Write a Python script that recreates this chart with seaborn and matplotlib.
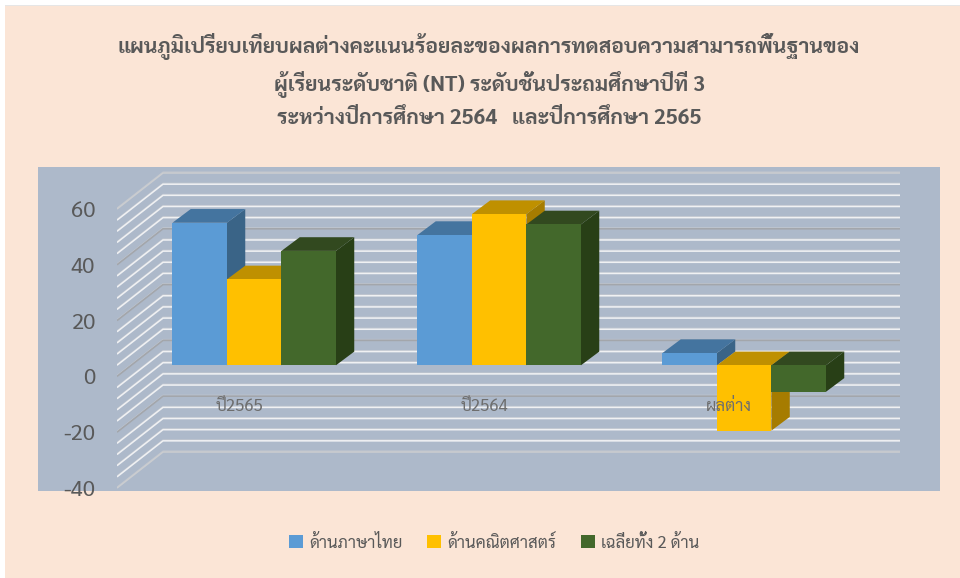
import matplotlib
matplotlib.use('Agg')
import matplotlib.pyplot as plt
from matplotlib.patches import Polygon, Rectangle
from matplotlib.transforms import ScaledTranslation
import pandas as pd
import seaborn as sns

categories = ['ปี2565', 'ปี2564', 'ผลต่าง']
thai_scores = [51.1, 46.7, 4.4]
math_scores = [30.8, 54.2, -23.4]
mean_scores = [41.0, 50.5, -9.5]
series_names = ['ด้านภาษาไทย', 'ด้านคณิตศาสตร์', 'เฉลี่ยทั้ง 2 ด้าน']
front_colors = ['#5B9BD5', '#FFC000', '#43682B']
top_colors = ['#44749F', '#BF9000', '#32491F']
side_colors = ['#3A6487', '#A67C00', '#283F16']
title_lines = [
    'แผนภูมิเปรียบเทียบผลต่างคะแนนร้อยละของผลการทดสอบความสามารถพื้นฐานของ',
    'ผู้เรียนระดับชาติ (NT) ระดับชั้นประถมศึกษาปีที่ 3',
    'ระหว่างปีการศึกษา 2564   และปีการศึกษา 2565',
]
y_ticks = [60, 40, 20, 0, -20, -40]
grid_levels = list(range(-40, 61, 4))

W, H = 960, 578
PX_PER_UNIT = 2.79   # แกน y
PX_PER_CAT = 245.0   # ระยะห่างกลุ่ม
BG = '#FBE5D6'
PANEL = '#ADB9CA'
TEXT = '#595959'

sns.set_style('white')
plt.rcParams['font.family'] = ['Sarabun', 'DejaVu Sans']
plt.rcParams['axes.unicode_minus'] = False

df = pd.DataFrame({
    'category': categories * 3,
    'series': [s for s in series_names for _ in categories],
    'value': thai_scores + math_scores + mean_scores,
})

fig = plt.figure(figsize=(W / 100, H / 100), dpi=100, facecolor='white')
fig.add_artist(Rectangle((5 / W, 0), 1, 1 - 5 / H, transform=fig.transFigure,
                         facecolor=BG, edgecolor='none', zorder=-3))
fig.add_artist(Rectangle((5 / W, 1 - 6 / H), 1, 1.5 / H, transform=fig.transFigure,
                         facecolor='#E6E6E6', edgecolor='none', zorder=-2))
fig.add_artist(Rectangle((38 / W, 1 - 491 / H), 902 / W, 324 / H, transform=fig.transFigure,
                         facecolor=PANEL, edgecolor='none', zorder=-1))

ax = fig.add_axes([117 / W, 1 - 491 / H, 783 / W, 324 / H])
ax.patch.set_visible(False)

sns.barplot(data=df, x='category', y='value', hue='series', order=categories,
            hue_order=series_names, palette=front_colors, saturation=1,
            width=163.5 / PX_PER_CAT, gap=0, ax=ax)
handles, labels = ax.get_legend_handles_labels()
ax.get_legend().remove()

# พิกัดแกน (ศูนย์อยู่ที่ 365.3 px)
ax.set_xlim((117 - 254.2) / PX_PER_CAT, (900 - 254.2) / PX_PER_CAT)
ax.set_ylim((365.3 - 491) / PX_PER_UNIT, (365.3 - 167) / PX_PER_UNIT)

# ผนังและเส้นกริด
wall_front = -11.1 / PX_PER_UNIT
wall_back = wall_front + 36 / PX_PER_UNIT
x_front, x_right = ax.get_xlim()
x_back = x_front + 46 / PX_PER_CAT
for level in grid_levels:
    xs = [x_front, x_back, x_right]
    ys = [level + wall_front, level + wall_back, level + wall_back]
    if level in (60, -40):
        color = '#CBCDD0'
    elif level % 20 == 0:
        color = '#A3A6AB'
    else:
        color = '#F0F1F3'
    ax.plot(xs, ys, color=color, lw=1.15, zorder=0.5, solid_capstyle='butt')
    ax.plot(xs, [y + 0.4 for y in ys], color='#C2C7CF', lw=0.6, zorder=0.4)

# ด้านบนและด้านข้างของแท่ง 3 มิติ
depth_x = 18.3 / PX_PER_CAT
depth_y = 13.7 / PX_PER_UNIT
for s, container in enumerate(ax.containers):
    for c, bar in enumerate(container.patches):
        x0, x1 = bar.get_x(), bar.get_x() + bar.get_width()
        y0 = min(bar.get_y(), bar.get_y() + bar.get_height())
        y1 = max(bar.get_y(), bar.get_y() + bar.get_height())
        z = 1 + 0.1 * (c * 3 + s)
        ax.add_patch(Polygon([(x1, y0), (x1, y1), (x1 + depth_x, y1 + depth_y), (x1 + depth_x, y0 + depth_y)],
                             facecolor=side_colors[s], edgecolor='none', zorder=z))
        ax.add_patch(Polygon([(x0, y1), (x1, y1), (x1 + depth_x, y1 + depth_y), (x0 + depth_x, y1 + depth_y)],
                             facecolor=top_colors[s], edgecolor='none', zorder=z + 0.01))
        bar.set_linewidth(0)
        bar.set_zorder(z + 0.02)

sns.despine(ax=ax, left=True, bottom=True)
ax.set_xlabel('')
ax.set_ylabel('')
ax.set_axisbelow(False)
ax.set_yticks(y_ticks)
ax.tick_params(axis='y', length=0, pad=15.8, labelsize=16, labelcolor=TEXT)
ax.tick_params(axis='x', length=0, pad=-61, labelsize=12, labelcolor='#6E6E6E')
for tick in ax.yaxis.get_major_ticks():
    tick.label1.set_transform(tick.label1.get_transform() + ScaledTranslation(0, -11.1 / 100, fig.dpi_scale_trans))
for tick in ax.xaxis.get_major_ticks():
    tick.label1.set_verticalalignment('center')
    tick.label1.set_transform(tick.label1.get_transform() + ScaledTranslation(-15 / 100, 0, fig.dpi_scale_trans))

for line, y in zip(title_lines, [47, 84, 118]):
    fig.text(489 / W, 1 - y / H, line, ha='center', va='center', fontsize=15.2,
             fontweight='bold', color=TEXT)

leg = fig.legend(handles, labels, loc='center', bbox_to_anchor=(494 / W, 1 - 543 / H), ncol=3,
                 frameon=False, fontsize=12, handlelength=0.84, handleheight=0.84,
                 handletextpad=0.4, columnspacing=1.45, labelcolor=TEXT, borderpad=0)
for h in leg.legend_handles:
    h.set_edgecolor('none')

fig.savefig('out.png', dpi=100, facecolor=fig.get_facecolor())
